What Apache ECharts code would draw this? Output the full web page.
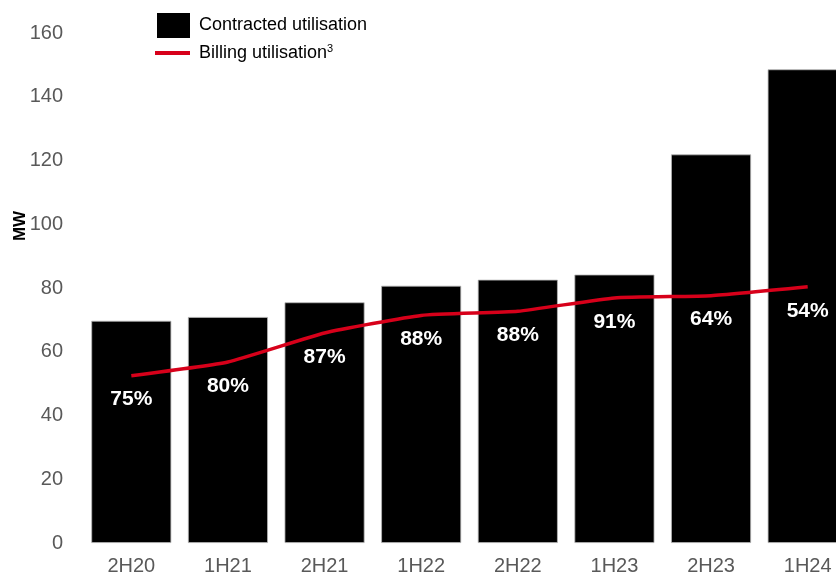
<!DOCTYPE html>
<html>
<head>
<meta charset="utf-8">
<script src="https://cdn.jsdelivr.net/npm/echarts@6/dist/echarts.min.js"></script>
<style>
  html, body { margin: 0; padding: 0; background: #fff; overflow: hidden; }
  /* the last bar runs past the right edge of the page */
  #chart { width: 860px; height: 572px; }
</style>
</head>
<body>
<div id="chart"></div>
<script>
// Half-year periods
const periods = ['2H20', '1H21', '2H21', '1H22', '2H22', '1H23', '2H23', '1H24'];
// Contracted utilisation (MW)
const contractedMW = [69.7, 70.9, 75.5, 80.7, 82.6, 84.2, 121.9, 148.6];
// Billing utilisation (MW)
const billingMW = [52.5, 56.8, 65.9, 71.4, 72.7, 76.9, 77.6, 80.4];
// Billing utilisation as share of contracted
const billingPct = ['75%', '80%', '87%', '88%', '88%', '91%', '64%', '54%'];
// Value axis ticks
const yMin = 0, yMax = 160, yStep = 20;

const FONT = '"Liberation Sans", Arial, sans-serif';
const RED = '#d7001a';

const chart = echarts.init(document.getElementById('chart'), null, { renderer: 'canvas' });

chart.setOption({
  animation: false,
  backgroundColor: '#ffffff',
  textStyle: { fontFamily: FONT },
  grid: { left: 83, top: 33, right: 4, height: 510, containLabel: false, outerBoundsMode: 'none' },
  legend: [
    {
      data: [{ name: 'Contracted utilisation', icon: 'rect', itemStyle: { borderWidth: 0 } }],
      orient: 'vertical', left: 152, top: 8,
      itemWidth: 33, itemHeight: 25,
      textStyle: { fontFamily: FONT, fontSize: 18, color: '#000', padding: [0, 0, 0, 4] },
      selectedMode: false
    },
    {
      data: [{ name: 'Billing utilisation', icon: 'rect', itemStyle: { color: RED, opacity: 1 } }],
      orient: 'vertical', left: 150, top: 38,
      itemWidth: 35, itemHeight: 4,
      formatter: name => name + '{sup|3}',
      textStyle: {
        fontFamily: FONT, fontSize: 18, color: '#000', padding: [0, 0, 0, 4],
        rich: { sup: { fontFamily: FONT, fontSize: 11, color: '#000', verticalAlign: 'top', padding: [0, 0, 9, 0] } }
      },
      selectedMode: false
    }
  ],
  xAxis: {
    type: 'category',
    data: periods,
    axisLine: { show: false },
    axisTick: { show: false },
    axisLabel: { color: '#595959', fontSize: 20, fontFamily: FONT, margin: 13 }
  },
  yAxis: {
    type: 'value',
    min: yMin, max: yMax, interval: yStep,
    splitLine: { show: false },
    axisLine: { show: false },
    axisTick: { show: false },
    axisLabel: { color: '#595959', fontSize: 20, fontFamily: FONT, margin: 20 }
  },
  graphic: [
    {
      type: 'text',
      x: 20, y: 226,
      rotation: Math.PI / 2,
      style: {
        text: 'MW', fill: '#000', fontFamily: FONT, fontWeight: 'bold', fontSize: 17,
        textAlign: 'center', textVerticalAlign: 'middle'
      }
    }
  ],
  series: [
    {
      name: 'Contracted utilisation',
      type: 'bar',
      data: contractedMW,
      barWidth: 80,
      itemStyle: { color: '#000', borderColor: '#b5b5b5', borderWidth: 0.8 },
      z: 2
    },
    {
      name: 'Billing utilisation',
      type: 'line',
      data: billingMW,
      smooth: 0.15,
      symbol: 'circle',
      symbolSize: 1,
      showSymbol: true,
      lineStyle: { color: RED, width: 3.5 },
      itemStyle: { color: 'rgba(0,0,0,0)', borderWidth: 0 },
      label: {
        show: true,
        position: 'bottom',
        distance: 13,
        formatter: p => billingPct[p.dataIndex],
        color: '#fff',
        fontFamily: FONT,
        fontWeight: 'bold',
        fontSize: 21
      },
      z: 3
    }
  ]
});
</script>
</body>
</html>
